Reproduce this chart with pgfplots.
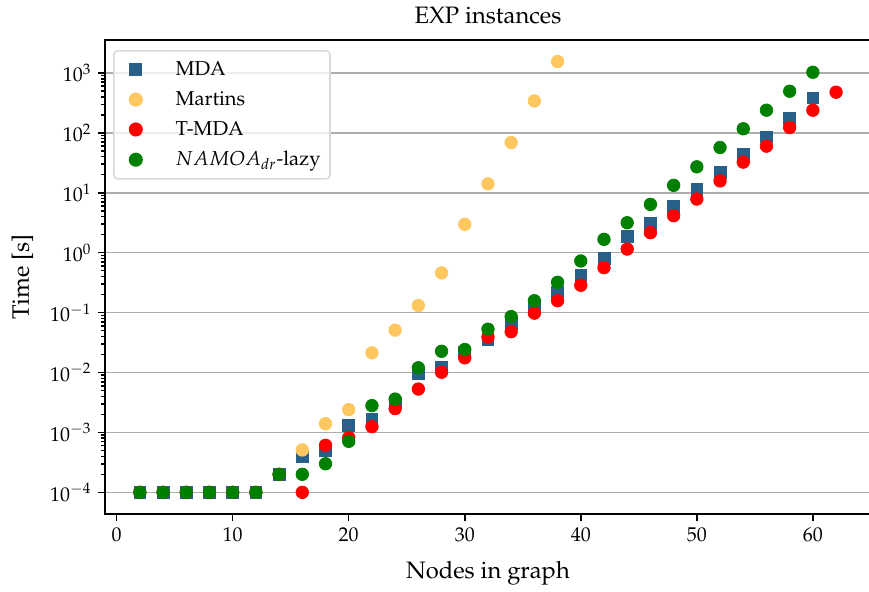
\documentclass[border=0pt]{standalone}
\usepackage[T1]{fontenc}
\usepackage{mathpazo}
\usepackage{pgfplots}
\pgfplotsset{compat=1.18}
\definecolor{mdablue}{RGB}{40,96,138}
\definecolor{martins}{RGB}{255,199,95}
\definecolor{tmda}{RGB}{255,0,0}
\definecolor{namoa}{RGB}{0,128,0}
\begin{document}
\begin{tikzpicture}
\begin{axis}[
  scale only axis, width=403.2pt, height=249.5pt,
  xmin=-1, xmax=65, ymode=log, ymin=4.365e-5, ymax=3548,
  xtick={0,10,20,30,40,50,60},
  ytick={1e-4,1e-3,1e-2,1e-1,1,10,100,1000},
  xtick pos=bottom, ytick pos=left, tick align=outside,
  major tick length=3.7pt, minor tick length=2.1pt,
  every tick/.style={black, line width=0.8pt},
  axis line style={line width=1pt},
  ymajorgrids, major grid style={draw=black!32, line width=0.8pt},
  tick label style={font=\fontsize{10.5}{12}\selectfont},
  title={\fontsize{12.5}{15}\selectfont EXP instances}, title style={yshift=-1pt},
  xlabel={\fontsize{12.5}{15}\selectfont Nodes in graph}, ylabel={\fontsize{12.5}{15}\selectfont Time [s]},
  ylabel style={yshift=2pt}, xlabel style={yshift=-3.5pt},
  legend style={at={(0,1)}, anchor=north west, xshift=4.2pt, yshift=-5.3pt,
    draw=black!15, rounded corners=2pt, fill=white, fill opacity=0.8, text opacity=1,
    line width=0.8pt, font=\fontsize{10.6}{13}\selectfont, row sep=2.9pt,
    inner xsep=3pt, inner ysep=3.5pt},
  legend cell align=left,
  legend image code/.code={\node[inner sep=0pt, minimum width=27.5pt, minimum height=1pt, anchor=west] at (0pt,0pt) {}; \draw[#1, opacity=1] plot coordinates {(9pt,0pt)};},
]
\addplot[only marks, mark=square*, mark size=3.1pt, color=mdablue, mark options={draw=none, fill=mdablue}] coordinates {
(2,1e-4)(4,1e-4)(6,1e-4)(8,1e-4)(10,1e-4)(12,1e-4)(14,2e-4)(16,4e-4)(18,5e-4)(20,1.3e-3)
(22,1.65e-3)(24,3.1e-3)(26,9.6e-3)(28,1.24e-2)(30,2.18e-2)(32,3.6e-2)(34,6.7e-2)(36,0.118)
(38,0.215)(40,0.42)(42,0.81)(44,1.85)(46,3.13)(48,5.84)(50,11.4)(52,22.1)(54,43.6)(56,85.8)
(58,174)(60,383)};
\addlegendentry{MDA}
\addplot[only marks, mark=*, mark size=3.3pt, color=martins, mark options={draw=none, fill=martins}] coordinates {
(16,5.1e-4)(18,1.4e-3)(20,2.4e-3)(22,0.0213)(24,0.051)(26,0.131)(28,0.46)(30,2.97)
(32,14.1)(34,69)(36,341)(38,1550)};
\addlegendentry{Martins}
\addplot[only marks, mark=*, mark size=3.3pt, color=tmda, mark options={draw=none, fill=tmda}] coordinates {
(2,1e-4)(4,1e-4)(6,1e-4)(8,1e-4)(10,1e-4)(12,1e-4)(14,2e-4)(16,1e-4)(18,6.1e-4)(20,8.2e-4)
(22,1.25e-3)(24,2.5e-3)(26,5.3e-3)(28,1.01e-2)(30,1.76e-2)(32,3.9e-2)(34,4.8e-2)(36,0.098)
(38,0.158)(40,0.286)(42,0.562)(44,1.15)(46,2.16)(48,4.14)(50,7.85)(52,15.8)(54,32.5)(56,60)
(58,123)(60,239)(62,477)};
\addlegendentry{T-MDA}
\addplot[only marks, mark=*, mark size=3.3pt, color=namoa, mark options={draw=none, fill=namoa}] coordinates {
(2,1e-4)(4,1e-4)(6,1e-4)(8,1e-4)(10,1e-4)(12,1e-4)(14,2e-4)(16,2e-4)(18,3e-4)(20,7.1e-4)
(22,2.8e-3)(24,3.6e-3)(26,0.012)(28,0.0226)(30,0.0242)(32,0.0528)(34,0.0858)(36,0.158)
(38,0.321)(40,0.727)(42,1.67)(44,3.16)(46,6.4)(48,13.3)(50,27.1)(52,57)(54,117)(56,239)
(58,495)(60,1027)};
\addlegendentry{$NAMOA_{dr}$-lazy}
\end{axis}
\pgfresetboundingbox
\useasboundingbox ([shift={(-55.3pt,-41.05pt)}]current axis.south west) rectangle ([shift={(-1pt,21.05pt)}]current axis.north east);
\end{tikzpicture}
\end{document}
